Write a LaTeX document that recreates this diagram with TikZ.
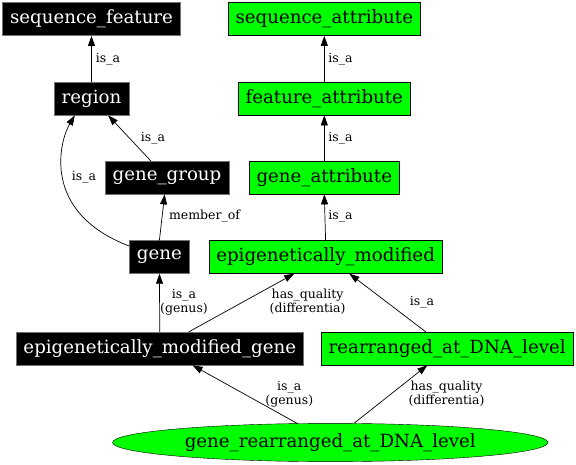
\documentclass[tikz,border=0pt]{standalone}
\usepackage{fontspec}
\setmainfont{DejaVu Serif}
\usetikzlibrary{arrows.meta,shapes.geometric}
\definecolor{termgreen}{RGB}{0,255,0}

\begin{document}
\begin{tikzpicture}[x=1pt, y=-1pt,
	blackterm/.style={rectangle, draw=black!55, fill=black, text=white, inner xsep=7.5pt, inner ysep=0pt, minimum height=33pt, font=\fontsize{18.2}{20}\selectfont},
	greenterm/.style={rectangle, draw=black, fill=termgreen, text=black, inner xsep=7.5pt, inner ysep=0pt, minimum height=33pt, font=\fontsize{18.2}{20}\selectfont},
	rel/.style={line width=0.7pt, -{Triangle[length=10pt, width=7pt]}},
	rellabel/.style={inner sep=0pt, align=center, font=\fontsize{12.5}{14}\selectfont}]
	\useasboundingbox (0,0) rectangle (576,465);

\newcommand\drawBlackTerm[4]{\node[blackterm] at (#1, #2) (#4) {#3};}
\newcommand\drawGreenTerm[4]{\node[greenterm] at (#1, #2) (#4) {#3};}
\newcommand\drawRelLabel[4]{\node[rellabel] at (#1, #2) (#4) {#3};}

\drawBlackTerm{91.5}{19.2}{sequence\_feature}{seqfeat}
\drawBlackTerm{91.5}{98.7}{region}{region}
\drawBlackTerm{167}{177.7}{gene\_group}{genegroup}
\drawBlackTerm{159.4}{257}{gene}{gene}
\drawBlackTerm{159.8}{348.6}{epigenetically\_modified\_gene}{emgene}
\drawGreenTerm{324.3}{19.2}{sequence\_attribute}{seqattr}
\drawGreenTerm{324.3}{98.7}{feature\_attribute}{featattr}
\drawGreenTerm{324.3}{177.7}{gene\_attribute}{geneattr}
\drawGreenTerm{325.6}{257}{epigenetically\_modified}{epimod}
\drawGreenTerm{447.2}{348.6}{rearranged\_at\_DNA\_level}{rearr}
\node[ellipse, draw=black, fill=termgreen, inner sep=0pt, minimum width=435.5pt, minimum height=38.3pt, font=\fontsize{18.2}{20}\selectfont] at (330.3, 442.5) (generearr) {gene\_rearranged\_at\_DNA\_level};

\drawRelLabel{108}{59}{is\_a}{lregion}
\drawRelLabel{153}{138}{is\_a}{lgroup}
\drawRelLabel{84}{177}{is\_a}{lgene}
\drawRelLabel{204.5}{216.5}{member\_of}{lmember}
\drawRelLabel{340.5}{59}{is\_a}{lfeatattr}
\drawRelLabel{340.5}{138}{is\_a}{lgeneattr}
\drawRelLabel{340.5}{216}{is\_a}{lepimod}
\drawRelLabel{184}{302}{is\_a\\(genus)}{lemgene}
\drawRelLabel{307.6}{302}{has\_quality\\(differentia)}{lemquality}
\drawRelLabel{422}{302}{is\_a}{lrearr}
\drawRelLabel{289.3}{394}{is\_a\\(genus)}{lgrgenus}
\drawRelLabel{446.5}{394}{has\_quality\\(differentia)}{lgrquality}

\draw[rel] (region) -- (seqfeat);
\draw[rel] (genegroup.134) -- (region.315);
\draw[rel] (gene.160) .. controls (40,212) and (60,140) .. (region.225);
\draw[rel] (gene.north) -- (genegroup.262);
\draw[rel] (featattr) -- (seqattr);
\draw[rel] (geneattr) -- (featattr);
\draw[rel] (epimod.north) -- (geneattr.south);
\draw[rel] (emgene) -- (gene);
\draw[rel] (emgene.30) -- (epimod.208);
\draw[rel] (rearr.142) -- (epimod.325);
\draw[rel] (generearr.150) -- (emgene.333);
\draw[rel] (generearr.39) -- (rearr.220);
\end{tikzpicture}
\end{document}
